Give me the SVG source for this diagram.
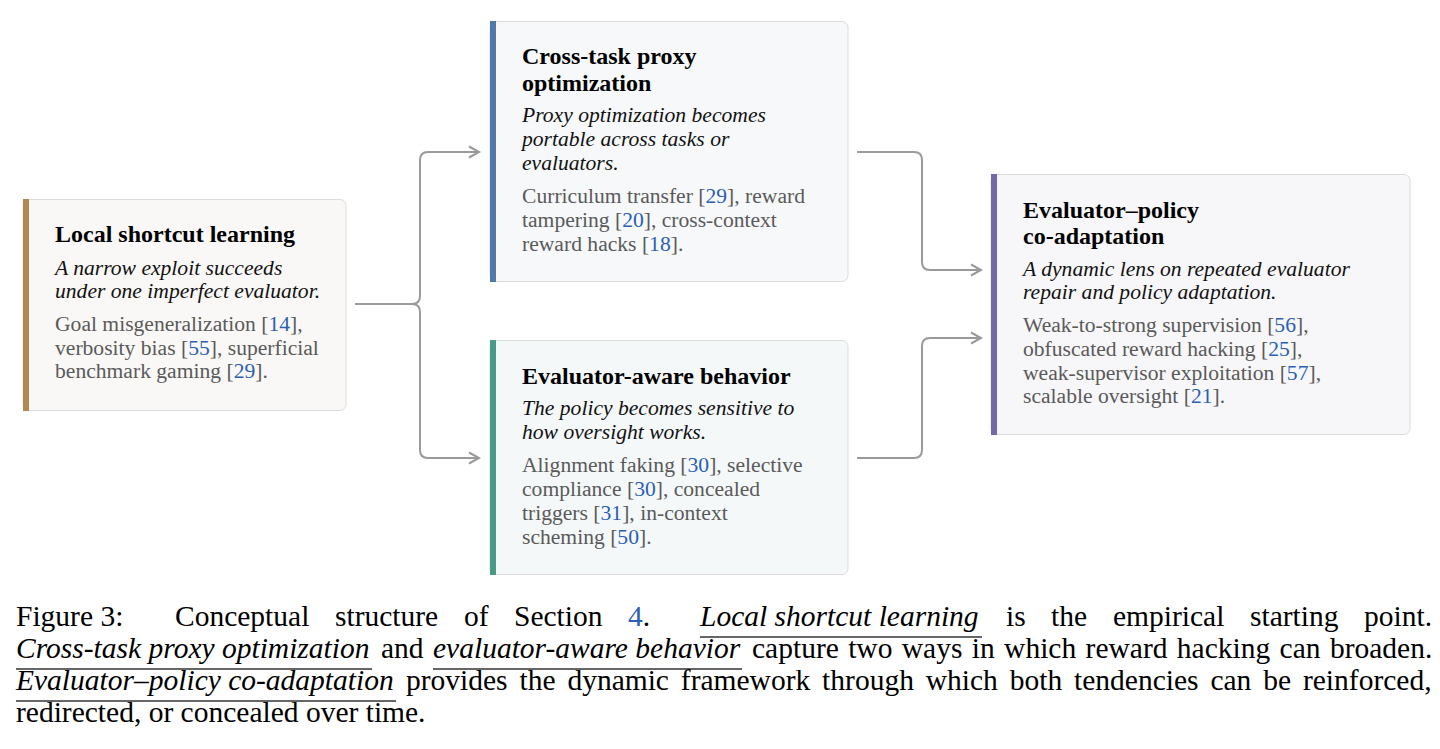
<svg xmlns="http://www.w3.org/2000/svg" width="1440" height="749" viewBox="0 0 1440 749">
<style>
.box{stroke:#dcdcdc;stroke-width:1}
.t{font-family:"Liberation Serif","Times New Roman",serif;font-weight:bold;font-size:24px;fill:#000}
.i{font-family:"Liberation Serif","Times New Roman",serif;font-style:italic;font-size:21.6px;fill:#111}
.b{font-family:"Liberation Serif","Times New Roman",serif;font-size:21.6px;fill:#5a5a5a}
.c{fill:#2b5fb4}
.cap{font-family:"Liberation Serif","Times New Roman",serif;font-size:29.5px;fill:#000}
.ci{font-style:italic}
.ul{stroke:#333;stroke-width:1.4}
.conn{fill:none;stroke:#9a9a9a;stroke-width:2}
</style>
<defs>
<marker id="arr" markerWidth="14" markerHeight="14" refX="11" refY="7" orient="auto" markerUnits="userSpaceOnUse">
<path d="M1,1.5 L11,7 L1,12.5" fill="none" stroke="#9a9a9a" stroke-width="2"/>
</marker>
</defs>
<rect width="1440" height="749" fill="#fff"/>

<g id="connectors">
<path class="conn" d="M355,304 H412 Q420,304 420,296 V160 Q420,152 428,152 H479" marker-end="url(#arr)"/>
<path class="conn" d="M355,304 H412 Q420,304 420,312 V450 Q420,458 428,458 H479" marker-end="url(#arr)"/>
<path class="conn" d="M857,152 H914 Q922,152 922,160 V262 Q922,270 930,270 H981" marker-end="url(#arr)"/>
<path class="conn" d="M857,458 H914 Q922,458 922,450 V346 Q922,338 930,338 H981" marker-end="url(#arr)"/>
</g>

<g id="node-local">
<rect class="box" x="23" y="199.5" width="323" height="211" rx="6" fill="#f9f8f6"/>
<rect x="23" y="199" width="6" height="212" fill="#b08852"/>
<text class="t" x="55" y="242">Local shortcut learning</text>
<text class="i" x="55" y="275">A narrow exploit succeeds</text>
<text class="i" x="55" y="298">under one imperfect evaluator.</text>
<text class="b" x="55" y="331">Goal misgeneralization [<tspan class="c">14</tspan>],</text>
<text class="b" x="55" y="355">verbosity bias [<tspan class="c">55</tspan>], superficial</text>
<text class="b" x="55" y="378">benchmark gaming [<tspan class="c">29</tspan>].</text>
</g>

<g id="node-crosstask">
<rect class="box" x="490" y="21.5" width="358" height="260" rx="6" fill="#f6f8fa"/>
<rect x="490" y="21" width="6" height="261" fill="#4f79a8"/>
<text class="t" x="522" y="64">Cross-task proxy</text>
<text class="t" x="522" y="91">optimization</text>
<text class="i" x="522" y="122">Proxy optimization becomes</text>
<text class="i" x="522" y="146">portable across tasks or</text>
<text class="i" x="522" y="170">evaluators.</text>
<text class="b" x="522" y="203">Curriculum transfer [<tspan class="c">29</tspan>], reward</text>
<text class="b" x="522" y="227">tampering [<tspan class="c">20</tspan>], cross-context</text>
<text class="b" x="522" y="251">reward hacks [<tspan class="c">18</tspan>].</text>
</g>

<g id="node-evalaware">
<rect class="box" x="490" y="340.5" width="358" height="234" rx="6" fill="#f5f8f9"/>
<rect x="490" y="340" width="6" height="235" fill="#4a9a88"/>
<text class="t" x="522" y="384">Evaluator-aware behavior</text>
<text class="i" x="522" y="415">The policy becomes sensitive to</text>
<text class="i" x="522" y="439">how oversight works.</text>
<text class="b" x="522" y="472">Alignment faking [<tspan class="c">30</tspan>], selective</text>
<text class="b" x="522" y="496">compliance [<tspan class="c">30</tspan>], concealed</text>
<text class="b" x="522" y="520">triggers [<tspan class="c">31</tspan>], in-context</text>
<text class="b" x="522" y="544">scheming [<tspan class="c">50</tspan>].</text>
</g>

<g id="node-coadapt">
<rect class="box" x="991" y="174.5" width="419" height="260" rx="6" fill="#f7f7f9"/>
<rect x="991" y="174" width="6" height="261" fill="#7468aa"/>
<text class="t" x="1023" y="218">Evaluator–policy</text>
<text class="t" x="1023" y="244">co-adaptation</text>
<text class="i" x="1023" y="276">A dynamic lens on repeated evaluator</text>
<text class="i" x="1023" y="299">repair and policy adaptation.</text>
<text class="b" x="1023" y="332">Weak-to-strong supervision [<tspan class="c">56</tspan>],</text>
<text class="b" x="1023" y="356">obfuscated reward hacking [<tspan class="c">25</tspan>],</text>
<text class="b" x="1023" y="380">weak-supervisor exploitation [<tspan class="c">57</tspan>],</text>
<text class="b" x="1023" y="403">scalable oversight [<tspan class="c">21</tspan>].</text>
</g>

<g id="caption">
<text class="cap" y="626"><tspan x="16">Figure 3:</tspan><tspan x="175">Conceptual</tspan><tspan x="335">structure</tspan><tspan x="464">of</tspan><tspan x="514">Section</tspan><tspan x="628" class="c">4</tspan><tspan>.</tspan><tspan x="700" class="ci">Local shortcut learning</tspan><tspan x="1006">is</tspan><tspan x="1051">the</tspan><tspan x="1113">empirical</tspan><tspan x="1250">starting</tspan><tspan x="1364">point.</tspan></text>
<line class="ul" x1="700" y1="637" x2="982" y2="637"/>
<text class="cap" y="658"><tspan x="16" class="ci">Cross-task proxy optimization</tspan><tspan x="381">and</tspan><tspan x="433" class="ci">evaluator-aware behavior</tspan><tspan x="752" word-spacing="2">capture two ways in which reward hacking can broaden.</tspan></text>
<line class="ul" x1="16" y1="669" x2="372" y2="669"/>
<line class="ul" x1="433" y1="669" x2="742" y2="669"/>
<text class="cap" y="690"><tspan x="16" class="ci">Evaluator–policy co-adaptation</tspan><tspan x="406" word-spacing="4.5">provides the dynamic framework through which both tendencies can be reinforced,</tspan></text>
<line class="ul" x1="16" y1="701" x2="396" y2="701"/>
<text class="cap" x="16" y="722">redirected, or concealed over time.</text>
</g>
</svg>
